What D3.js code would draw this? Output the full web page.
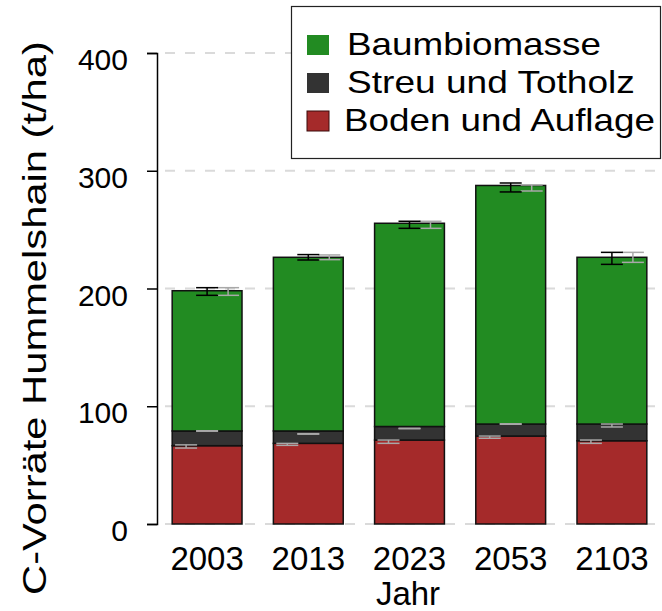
<!DOCTYPE html>
<html>
<head>
<meta charset="utf-8">
<script src="https://cdn.jsdelivr.net/npm/d3@7"></script>
<style>
  body { margin: 0; background: #fff; }
  text { font-family: "Liberation Sans", Arial, sans-serif; }
</style>
</head>
<body>
<div id="canvas"></div>
<script>
// Daten
const jahre = ["2003", "2013", "2023", "2053", "2103"];
const boden = [66.5, 68.5, 71.3, 74.7, 70.7];
const streu = [12.5, 10.5, 11.5, 10.2, 14.2];
const baum = [119.1, 147.5, 172.6, 202.6, 141.6];

// Fehlerbalken [unten, oben]
const errGesamt = [[194.2, 200.7], [224.2, 228.8], [251.1, 257.1], [282.0, 289.6], [220.5, 230.7]];
const errGesamt2 = [[194.2, 200.7], [224.5, 228.5], [251.1, 257.1], [282.8, 287.9], [222.2, 230.7]];
const errStreu = [[78.8, 79.2], [76.3, 76.7], [80.9, 81.3], [84.7, 85.1], [82.4, 84.9]];
const errBoden = [[64.5, 67.2], [66.8, 68.5], [68.5, 71.3], [72.8, 74.7], [68.5, 71.3]];

const yTicks = [0, 100, 200, 300, 400];
const reihen = ["Baumbiomasse", "Streu und Totholz", "Boden und Auflage"];
const farben = ["#228b22", "#333333", "#a52a2a"];

const width = 662;
const height = 611;

const svg = d3.select("#canvas").append("svg")
    .attr("width", width)
    .attr("height", height);

const x = d3.scaleBand()
    .domain(jahre)
    .range([157, 662])
    .paddingInner(0.31)
    .paddingOuter(0.15);

const y = d3.scaleLinear()
    .domain([0, 400])
    .range([524, 53]);

// Text horizontal auf eine Zielbreite strecken
function strecken(sel, breite) {
    const w = sel.node().getComputedTextLength();
    sel.attr("transform", `scale(${breite / w},1)`);
}

// Gitterlinien
svg.append("g").selectAll("line").data(yTicks).enter()
    .append("line")
    .attr("x1", 165).attr("x2", width)
    .attr("y1", d => y(d)).attr("y2", d => y(d))
    .attr("stroke", "#dadada")
    .attr("stroke-width", 2)
    .attr("stroke-dasharray", "10,10");

// gestapelte Balken
const daten = jahre.map((j, i) => ({ jahr: j, boden: boden[i], streu: streu[i], baum: baum[i] }));
const stack = d3.stack().keys(["boden", "streu", "baum"])(daten);
const farbe = { boden: farben[2], streu: farben[1], baum: farben[0] };

svg.append("g").selectAll("g").data(stack).enter()
    .append("g")
    .attr("fill", d => farbe[d.key])
    .selectAll("rect").data(d => d).enter()
    .append("rect")
    .attr("x", d => x(d.data.jahr))
    .attr("y", d => y(d[1]))
    .attr("width", x.bandwidth())
    .attr("height", d => y(d[0]) - y(d[1]))
    .attr("stroke", "#111")
    .attr("stroke-width", 1.5);

// Fehlerbalken zeichnen
function fehler(werte, versatz, farbe) {
    const g = svg.append("g").attr("stroke", farbe).attr("stroke-width", 1.5);
    werte.forEach((w, i) => {
        const cx = x(jahre[i]) + x.bandwidth() / 2 + versatz;
        g.append("line").attr("x1", cx).attr("x2", cx).attr("y1", y(w[0])).attr("y2", y(w[1]));
        g.append("line").attr("x1", cx - 11).attr("x2", cx + 11).attr("y1", y(w[0])).attr("y2", y(w[0]));
        g.append("line").attr("x1", cx - 11).attr("x2", cx + 11).attr("y1", y(w[1])).attr("y2", y(w[1]));
    });
}
fehler(errBoden, -21, "#a8a8a8");
fehler(errStreu, 0, "#a8a8a8");
fehler(errGesamt2, 21, "#a8a8a8");
fehler(errGesamt, 0, "#000");

// y-Achse
const yAxis = svg.append("g")
    .attr("transform", "translate(157,0)")
    .call(d3.axisLeft(y).tickValues(yTicks).tickSize(10).tickPadding(19));
yAxis.select(".domain").attr("stroke-width", 1.5);
yAxis.selectAll(".tick line").attr("stroke-width", 1.5);
yAxis.selectAll("text")
    .style("font-size", "30px")
    .attr("font-family", null)
    .attr("dy", "0.55em");

// x-Beschriftung
svg.append("g").selectAll("text").data(jahre).enter()
    .append("text")
    .attr("x", d => x(d) + x.bandwidth() / 2)
    .attr("y", 570)
    .attr("text-anchor", "middle")
    .style("font-size", "33px")
    .text(d => d);

svg.append("text")
    .attr("x", 408).attr("y", 605)
    .attr("text-anchor", "middle")
    .style("font-size", "33px")
    .text("Jahr");

const titel = svg.append("g")
    .attr("transform", "translate(46,318) rotate(-90)")
    .append("text")
    .attr("text-anchor", "middle")
    .style("font-size", "33px")
    .text("C-Vorräte Hummelshain (t/ha)");
strecken(titel, 554);

// Legende
const leg = svg.append("g");
leg.append("rect")
    .attr("x", 291.5).attr("y", 6.5)
    .attr("width", 369).attr("height", 152)
    .attr("fill", "#fff")
    .attr("stroke", "#222")
    .attr("stroke-width", 1.2);

const zeilen = [55, 93, 131];
const breiten = [254, 288, 311];
reihen.forEach((r, i) => {
    leg.append("rect")
        .attr("x", 307).attr("y", zeilen[i] - 20)
        .attr("width", 22).attr("height", 20)
        .attr("fill", farben[i])
        .attr("stroke", i === 2 ? "#3a0a0a" : "none");
    const t = leg.append("g")
        .attr("transform", `translate(${i === 2 ? 344 : 347},${zeilen[i]})`)
        .append("text")
        .style("font-size", "32px")
        .text(r);
    strecken(t, breiten[i]);
});
</script>
</body>
</html>
